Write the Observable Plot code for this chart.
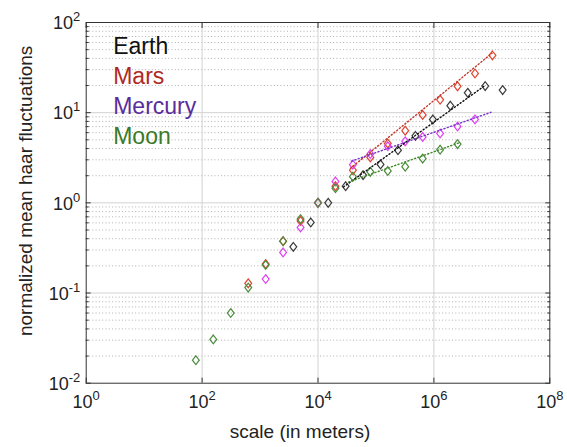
<!DOCTYPE html>
<html><head><meta charset="utf-8">
<script src="https://cdn.jsdelivr.net/npm/d3@7"></script>
<script src="https://cdn.jsdelivr.net/npm/@observablehq/plot@0.6"></script>
<style>
body{margin:0;background:#fff;}
svg{display:block;}
</style>
</head><body><div id="chart"></div>
<script>
// ---- data ----
const earthScale = [3750, 7500, 15000, 30000, 60000, 120000, 240000, 480000, 960000, 1920000, 3840000, 7680000, 15360000];
const earthValue = [0.325, 0.606, 1.0, 1.53, 2.03, 2.67, 3.84, 5.53, 8.41, 11.96, 16.6, 19.7, 17.8];

const marsScale = [625, 1250, 2500, 5000, 10000, 20000, 40000, 80000, 160000, 320000, 640000, 1280000, 2560000, 5120000, 10240000];
const marsValue = [0.128, 0.21, 0.376, 0.63, 1.0, 1.53, 2.30, 3.19, 4.56, 6.31, 9.45, 13.9, 19.6, 27.2, 43.2];

const mercuryScale = [1250, 2500, 5000, 10000, 20000, 40000, 80000, 160000, 320000, 640000, 1280000, 2560000, 5120000];
const mercuryValue = [0.143, 0.282, 0.533, 1.0, 1.73, 2.65, 3.48, 4.25, 4.81, 5.39, 5.88, 7.03, 8.41];

const moonScale = [78, 156, 312, 625, 1250, 2500, 5000, 10000, 20000, 40000, 80000, 160000, 320000, 640000, 1280000, 2560000];
const moonValue = [0.018, 0.0306, 0.060, 0.115, 0.205, 0.376, 0.66, 1.0, 1.455, 1.95, 2.21, 2.26, 2.52, 3.10, 3.89, 4.48];

// power-law fit lines (end points)
const earthFitScale = [27540, 7770000];   const earthFitValue = [1.50, 20.2];
const marsFitScale = [36400, 10100000];   const marsFitValue = [2.42, 45.7];
const mercuryFitScale = [37840, 9670000]; const mercuryFitValue = [2.90, 10.1];
const moonFitScale = [33600, 2770000];    const moonFitValue = [1.70, 4.65];

const bodies = ["Earth", "Mars", "Mercury", "Moon"];
const xTickValues = [1, 1e2, 1e4, 1e6, 1e8];
const xTickLabels = ["10^0", "10^2", "10^4", "10^6", "10^8"];
const yTickValues = [1e-2, 1e-1, 1, 10, 100];
const yTickLabels = ["10^-2", "10^-1", "10^0", "10^1", "10^2"];
const xGridValues = [1e2, 1e4, 1e6];
const yGridValues = [1e-1, 1, 10];
const yMinorValues = [1e-2, 1e-1, 1, 10].flatMap(d => [2,3,4,5,6,7,8,9].map(m => d * m));

// ---- styles ----
const markerColor = {Earth: "#3a3a3a", Mars: "#e0442e", Mercury: "#e040f0", Moon: "#4b8b3b"};
const lineColor = {Earth: "#111111", Mars: "#c0392b", Mercury: "#7a30c8", Moon: "#3f8a2a"};
const legendColor = {Earth: "#111111", Mars: "#b02a1f", Mercury: "#5c2c9c", Moon: "#3b7a28"};

const series = {
  Earth: [earthScale, earthValue, earthFitScale, earthFitValue],
  Mars: [marsScale, marsValue, marsFitScale, marsFitValue],
  Mercury: [mercuryScale, mercuryValue, mercuryFitScale, mercuryFitValue],
  Moon: [moonScale, moonValue, moonFitScale, moonFitValue]
};
const points = bodies.flatMap(b => series[b][0].map((s, i) => ({body: b, scale: s, value: series[b][1][i]})));
const fits = bodies.flatMap(b => series[b][2].map((s, i) => ({body: b, scale: s, value: series[b][3][i]})));

const diamond = {
  draw(ctx, size) {
    const r = Math.sqrt(size / Math.PI);
    const w = r * 0.9, h = r * 1.15;
    ctx.moveTo(0, -h); ctx.lineTo(w, 0); ctx.lineTo(0, h); ctx.lineTo(-w, 0); ctx.closePath();
  }
};

const font = "'Liberation Sans', Arial, Helvetica, sans-serif";
const noText = () => "";

const marks = [
  Plot.ruleY(yMinorValues, {stroke: "#b0b0b0", strokeDasharray: "1,2.3"}),
  Plot.ruleY(yGridValues, {stroke: "#d2d2d2"}),
  Plot.ruleX(xGridValues, {stroke: "#d2d2d2"}),
  // inward ticks
  Plot.axisX(xTickValues, {anchor: "bottom", tickSize: -5, tickFormat: noText, label: null, stroke: "#333"}),
  Plot.axisX(xTickValues, {anchor: "top", tickSize: -5, tickFormat: noText, label: null, stroke: "#333"}),
  Plot.axisY(yTickValues, {anchor: "left", tickSize: -5, tickFormat: noText, label: null, stroke: "#333"}),
  Plot.axisY(yTickValues, {anchor: "right", tickSize: -5, tickFormat: noText, label: null, stroke: "#333"}),
  Plot.axisY(yMinorValues, {anchor: "left", tickSize: -3, tickFormat: noText, label: null, stroke: "#333"}),
  Plot.axisY(yMinorValues, {anchor: "right", tickSize: -3, tickFormat: noText, label: null, stroke: "#333"}),
  Plot.frame({stroke: "#333"}),
  // markers
  ...bodies.map(b => Plot.dot(points.filter(d => d.body === b), {
    x: "scale", y: "value", symbol: diamond, r: 3.8, stroke: markerColor[b], strokeWidth: 1.2, fill: "none"
  })),
  // fits
  ...bodies.map(b => Plot.line(fits.filter(d => d.body === b), {
    x: "scale", y: "value", stroke: lineColor[b], strokeWidth: 1.4, strokeDasharray: "1.2,2.3"
  })),
  // tick labels
  Plot.text(xTickValues, {x: d => d, text: (d, i) => xTickLabels[i], frameAnchor: "bottom", lineAnchor: "bottom",
    textAnchor: "middle", dy: 25, fontSize: 18, fill: "#222"}),
  Plot.text(yTickValues, {y: d => d, text: (d, i) => yTickLabels[i], frameAnchor: "left", textAnchor: "end",
    dx: -6, dy: 1, fontSize: 18, fill: "#222"}),
  // axis titles
  Plot.text(["scale (in meters)"], {frameAnchor: "bottom", textAnchor: "middle", lineAnchor: "bottom",
    dx: -18, dy: 55, fontSize: 19, fill: "#222"}),
  Plot.text(["normalized mean haar fluctuations"], {frameAnchor: "left", textAnchor: "middle", rotate: -90,
    dx: -60, dy: -12, fontSize: 19, fill: "#222"}),
  // legend
  ...bodies.map((b, i) => Plot.text([b], {frameAnchor: "top-left", textAnchor: "start", lineAnchor: "bottom",
    dx: 27, dy: 31.5 + i * 29.9, fontSize: 23, fill: legendColor[b]}))
];

const chart = Plot.plot({
  width: 567, height: 447,
  marginLeft: 85.7, marginRight: 17.7, marginTop: 22, marginBottom: 64.3,
  style: {fontFamily: font, background: "#fff"},
  x: {type: "log", domain: [1, 1e8]},
  y: {type: "log", domain: [1e-2, 1e2]},
  marks
});

// superscript exponents
d3.select(chart).selectAll("text").each(function() {
  const t = this.textContent;
  const m = /^10\^(.+)$/.exec(t);
  if (m) {
    const sel = d3.select(this);
    sel.text("10");
    sel.append("tspan").attr("dy", "-0.62em").attr("font-size", "0.72em").text(m[1]);
  }
});

document.getElementById("chart").appendChild(chart);
</script></body></html>
